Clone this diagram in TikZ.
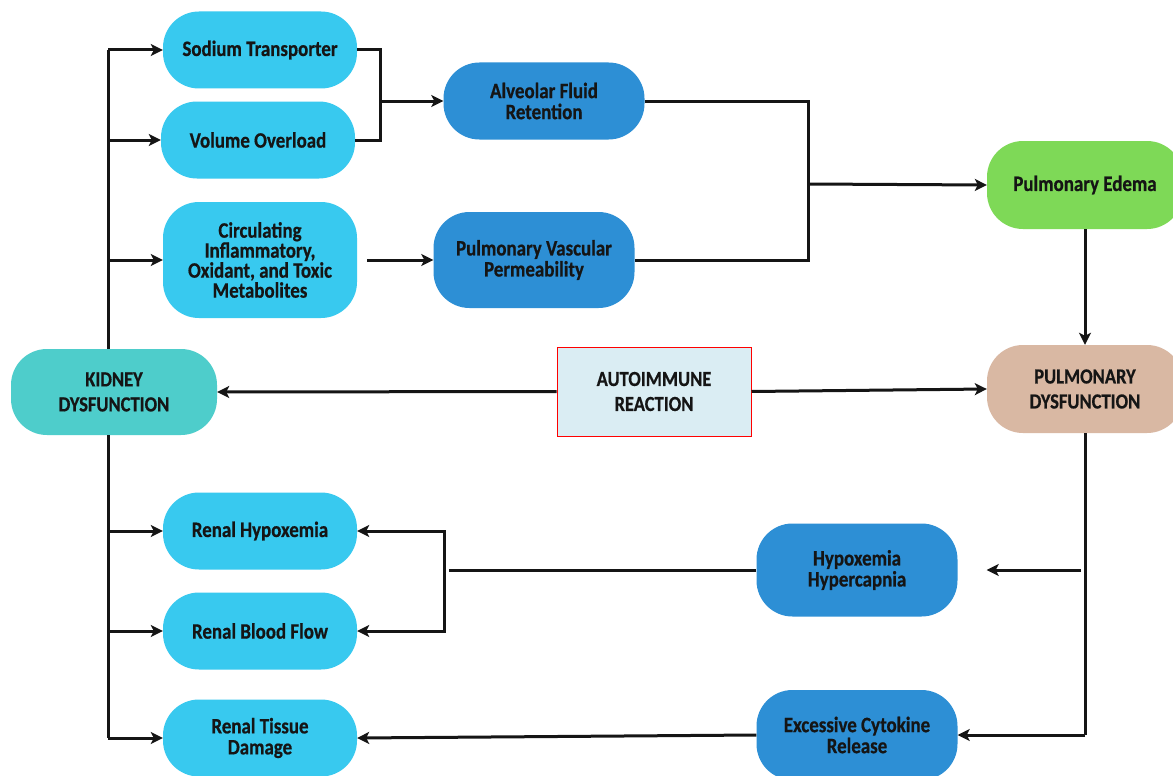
\documentclass[tikz,border=0pt]{standalone}
\usepackage{fontspec}
\setmainfont{Carlito}[FakeStretch=0.86, FakeBold=0.6]
\usetikzlibrary{arrows.meta}
\definecolor{cyanbox}{HTML}{38C9EF}
\definecolor{bluebox}{HTML}{2D8FD5}
\definecolor{greenbox}{HTML}{7ED957}
\definecolor{tanbox}{HTML}{D9B8A3}
\definecolor{tealbox}{HTML}{4ECDCB}
\definecolor{autofill}{HTML}{DAEDF3}
\definecolor{ink}{HTML}{151515}
\begin{document}
\begin{tikzpicture}[x=1pt,y=-1pt,
  pill/.style={rectangle, rounded corners=36pt, draw=none, align=center,
    font=\fontsize{22}{21}\selectfont\bfseries, text=ink, inner sep=0pt},
  capsfont/.style={font=\fontsize{21.5}{25}\selectfont\bfseries},
  cyanpill/.style={pill, fill=cyanbox, minimum width=194pt, minimum height=77pt},
  bluepill/.style={pill, fill=bluebox, minimum width=201pt, minimum height=77pt},
  ln/.style={draw=ink, line width=3pt},
  arr/.style={ln, -{Stealth[length=12pt,width=12pt,inset=3pt]}}]
\useasboundingbox (0,0) rectangle (1173,776);
\fill[white] (0,0) rectangle (1173,776);

% nodes
\node[cyanpill] (sod) at (260,50) {Sodium Transporter};
\node[cyanpill] (vol) at (258,140) {Volume Overload};
\node[cyanpill, minimum height=116pt, font=\fontsize{22}{20}\selectfont\bfseries] (circ) at (260,260) {Circulating\\Inflammatory,\\Oxidant, and Toxic\\Metabolites};
\node[bluepill] (alv) at (544,101) {Alveolar Fluid\\Retention};
\node[bluepill, minimum height=96pt] (pvp) at (534,260) {Pulmonary Vascular\\Permeability};
\node[pill, fill=greenbox, minimum width=196pt, minimum height=88pt] (edema) at (1085,185) {Pulmonary Edema};
\node[pill, capsfont, fill=tanbox, minimum width=196pt, minimum height=88pt] (pdys) at (1085,389) {PULMONARY\\DYSFUNCTION};
\node[rectangle, capsfont, align=center, text=ink, fill=autofill, draw=red, line width=1pt,
      minimum width=194pt, minimum height=89pt, inner sep=0pt] (auto) at (654,391.5) {AUTOIMMUNE\\REACTION};
\node[pill, capsfont, fill=tealbox, minimum width=206pt, minimum height=86pt] (kid) at (114,392) {KIDNEY\\DYSFUNCTION};
\node[cyanpill] (rhyp) at (260,531) {Renal Hypoxemia};
\node[cyanpill] (rbf) at (260,631) {Renal Blood Flow};
\node[cyanpill] (rtd) at (260,738) {Renal Tissue\\Damage};
\node[bluepill, minimum height=93pt] (hh) at (857,570) {Hypoxemia\\Hypercapnia};
\node[bluepill, minimum height=90pt] (exc) at (857,735) {Excessive Cytokine\\Release};

% left trunks
\coordinate (lt) at (108,0);
\draw[ln] (kid.north -| lt) -- (sod.west -| lt);
\draw[arr] (sod.west -| lt) -- (sod.west);
\draw[arr] (vol.west -| lt) -- (vol.west);
\draw[arr] (circ.west -| lt) -- (circ.west);
\draw[ln] (kid.south -| lt) -- (rtd.west -| lt);
\draw[arr] (rhyp.west -| lt) -- (rhyp.west);
\draw[arr] (rbf.west -| lt) -- (rbf.west);
\draw[arr] (rtd.west -| lt) -- (rtd.west);

% upper brackets
\coordinate (b1) at (380,101);
\draw[ln] (sod.east) -| (b1) |- (vol.east);
\draw[arr] (b1) -- (alv.west);
\draw[arr] ([xshift=10pt]circ.east) -- (pvp.west);
\coordinate (b2) at (808,184);
\draw[ln] (alv.east) -| (b2) |- (pvp.east);
\draw[arr] (b2) -- (edema.west);
\draw[arr] (edema.south) -- (pdys.north);

% autoimmune
\draw[arr] (auto.west) -- (kid.east);
\draw[arr] (auto.east) -- (pdys.west);

% right trunk
\draw[ln] (pdys.south) -- (pdys.south |- exc.east);
\draw[arr] (pdys.south |- exc.east) -- (exc.east);
\draw[arr] ([xshift=-4pt]pdys.south |- hh.east) -- ([xshift=29pt]hh.east);

% lower bracket
\coordinate (b3) at (449,570);
\coordinate (b3v) at (444,580);
\draw[ln] (hh.west) -- (b3);
\draw[arr] (b3v) |- (rhyp.east);
\draw[arr] (b3v) |- (rbf.east);
\draw[arr] (exc.west) -- (rtd.east);
\end{tikzpicture}
\end{document}
